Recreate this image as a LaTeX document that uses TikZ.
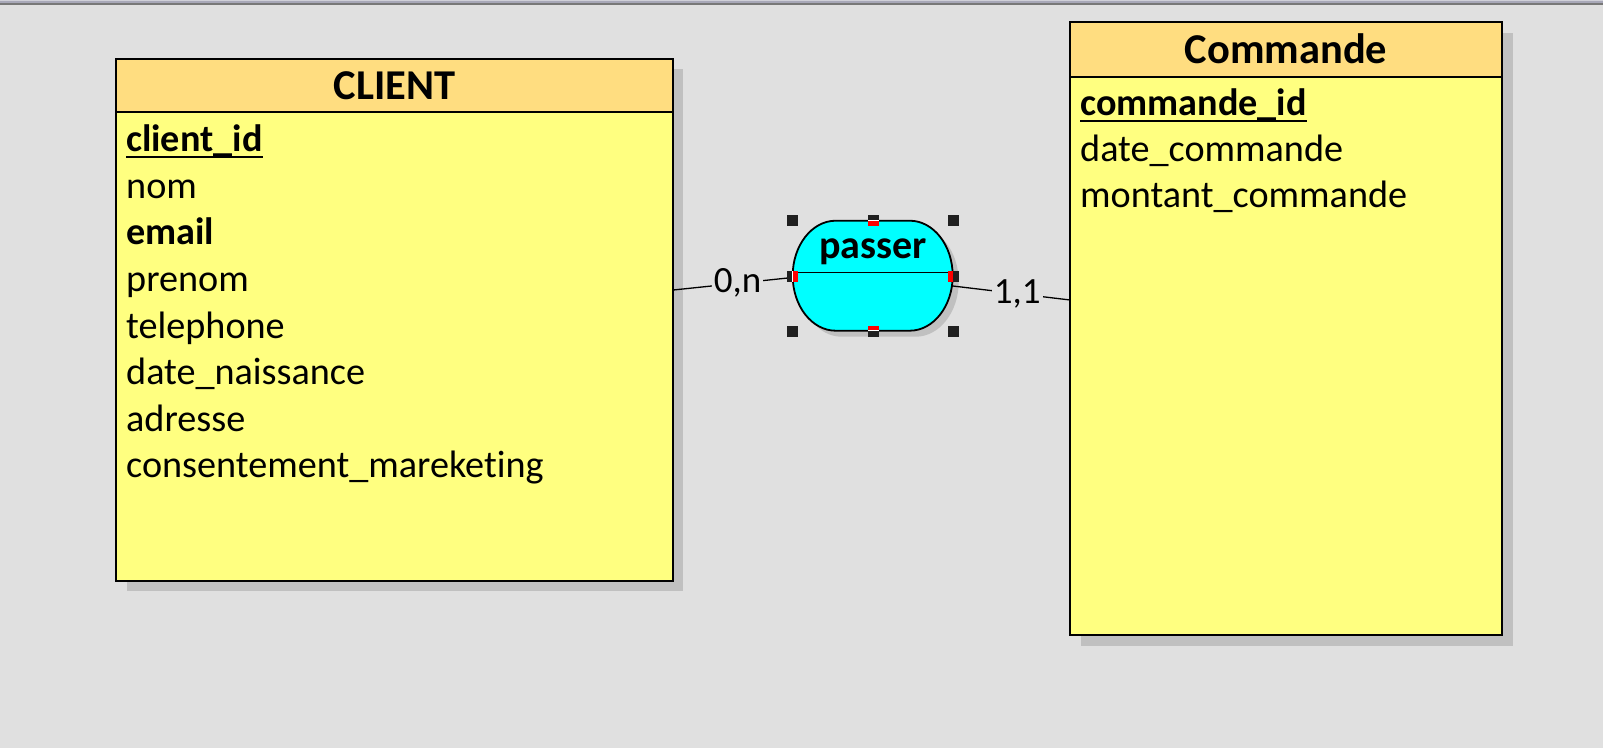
\documentclass[tikz,border=0pt]{standalone}
\usepackage{fontspec}
\setmainfont{Carlito}[Ligatures={NoCommon}]
\definecolor{bg}{HTML}{E0E0E0}
\definecolor{shd}{HTML}{C0C0C0}
\definecolor{headcol}{HTML}{FFDD80}
\definecolor{bodycol}{HTML}{FFFF80}
\definecolor{assoc}{HTML}{00FFFF}
\definecolor{handle}{HTML}{202020}
\definecolor{redmark}{HTML}{FF0000}
\definecolor{bar1}{HTML}{D0D0D8}
\definecolor{bar2}{HTML}{A8A8B8}
\definecolor{bar3}{HTML}{787878}
\begin{document}
\begin{tikzpicture}[x=1pt,y=-1pt,
  entity/.style={rectangle, fill=bodycol, inner sep=0pt},
  attr/.style={anchor=base west, inner sep=0pt, font=\fontsize{38.2}{44}\selectfont},
  keyattr/.style={attr, font=\fontsize{38.2}{44}\selectfont\bfseries},
  title/.style={anchor=base, inner sep=0pt, font=\fontsize{42.5}{48}\selectfont\bfseries},
  card/.style={fill=bg, inner sep=2pt, font=\fontsize{37}{44}\selectfont},
  hdl/.style={fill=handle},
  link/.style={draw=black, line width=1.3pt},
  assocshape/.style={rounded corners=0pt}
]
\useasboundingbox (0,0) rectangle (1603,748);
\fill[bg] (0,0) rectangle (1603,748);
\fill[bar1] (0,0) rectangle (1603,1);
\fill[bar2] (0,1) rectangle (1603,3);
\fill[bar3] (0,3) rectangle (1603,5);

% ---------- CLIENT ----------
\fill[shd] (126.5,69.3) rectangle (683,590.7);
\node[entity, minimum width=556.5pt, minimum height=521.4pt] (client) at (394.75,320) {};
\fill[headcol] (client.north west) rectangle (673,112.4);
\draw[line width=2pt] (116.5,112.4) -- (673,112.4);
\draw[line width=2pt] (client.north west) rectangle (client.south east);
\node[title] (ctitle) at (394.75,99.3) {CLIENT};
\node[keyattr] (cid) at (126,151.7) {client\_id};
\draw[line width=2pt] ([yshift=-5.6pt]cid.base west) -- ([yshift=-5.6pt]cid.base east);
\node[attr] (cnom) at (126,198.3) {nom};
\node[keyattr] (cemail) at (126,244.9) {email};
\node[attr] (cprenom) at (126,291.5) {prenom};
\node[attr] (ctel) at (126,338.1) {telephone};
\node[attr] (cdate) at (126,384.7) {date\_naissance};
\node[attr] (cadr) at (126,431.3) {adresse};
\node[attr] (ccons) at (126,477.9) {consentement\_mareketing};

% ---------- Commande ----------
\fill[shd] (1081,33.3) rectangle (1513,646);
\node[entity, minimum width=432pt, minimum height=612.7pt] (commande) at (1286,328.65) {};
\fill[headcol] (commande.north west) rectangle (1502,76.7);
\draw[line width=2pt] (1070,76.7) -- (1502,76.7);
\draw[line width=2pt] (commande.north west) rectangle (commande.south east);
\node[title] (mtitle) at (1286,63.3) {Commande};
\node[keyattr] (mid) at (1080,115) {commande\_id};
\draw[line width=2pt] ([yshift=-5.6pt]mid.base west) -- ([yshift=-5.6pt]mid.base east);
\node[attr] (mdate) at (1080,161.3) {date\_commande};
\node[attr] (mmont) at (1080,207.6) {montant\_commande};

% ---------- passer ----------
\fill[shd, shift={(6,6)}] (909.7,220.7) arc[start angle=90, end angle=-90, x radius=43pt, y radius=55pt]
   -- (835.7,330.7) arc[start angle=270, end angle=90, x radius=43pt, y radius=55pt] -- cycle;
\node[rectangle, minimum width=160pt, minimum height=110pt, inner sep=0pt] (passer) at (872.7,275.7) {};
\draw[line width=1.8pt, fill=assoc] (909.7,220.7) arc[start angle=90, end angle=-90, x radius=43pt, y radius=55pt]
   -- (835.7,330.7) arc[start angle=270, end angle=90, x radius=43pt, y radius=55pt] -- cycle;
\draw[line width=1.6pt] ([yshift=3.4pt]passer.west) -- ([yshift=3.4pt]passer.east);
\node[anchor=base, inner sep=0pt, font=\fontsize{40}{46}\selectfont\bfseries] (ptext) at (873,258.3) {passer};

% ---------- connectors ----------
\draw[link] ([yshift=30pt]client.east) -- node[card, pos=0.54] (c1) {0,n} ([yshift=-1.8pt]passer.west);
\draw[link] ([yshift=-10.3pt]passer.east) -- node[card, pos=0.55] (c2) {1,1} ([yshift=28.7pt]commande.west);

% ---------- selection handles ----------
\fill[hdl] (786.5,214.5) rectangle (797.5,225.5);
\fill[hdl] (948,214.5) rectangle (959,225.5);
\fill[hdl] (786.5,325.5) rectangle (797.5,336.5);
\fill[hdl] (948,325.5) rectangle (959,336.5);
% top middle
\fill[hdl] (867.5,214.5) rectangle (878.5,220);
\fill[white] (867.5,220) rectangle (878.5,220.8);
\fill[redmark] (867.5,220.8) rectangle (878.5,225.5);
% bottom middle
\fill[redmark] (867.5,325.5) rectangle (878.5,330.2);
\fill[white] (867.5,330.2) rectangle (878.5,331);
\fill[hdl] (867.5,331) rectangle (878.5,336.5);
% left middle
\fill[hdl] (786.5,270.5) rectangle (792,281.5);
\fill[white] (792,270.5) rectangle (792.8,281.5);
\fill[redmark] (792.8,270.5) rectangle (797.5,281.5);
% right middle
\fill[redmark] (948,270.5) rectangle (952.6,281.5);
\fill[white] (952.6,270.5) rectangle (953.4,281.5);
\fill[hdl] (953.4,270.5) rectangle (959,281.5);
\end{tikzpicture}
\end{document}
